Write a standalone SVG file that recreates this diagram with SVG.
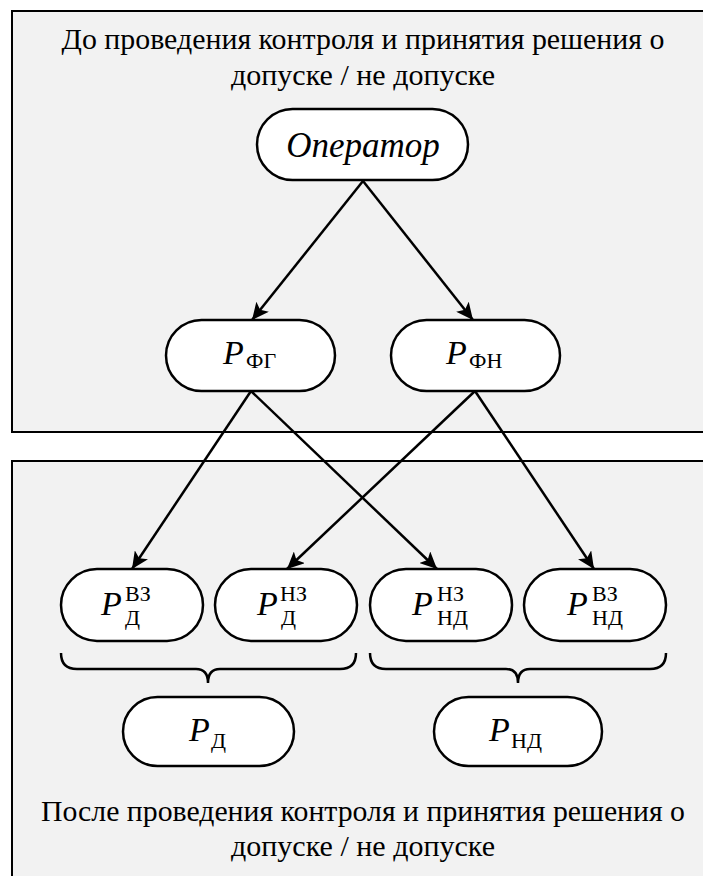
<svg xmlns="http://www.w3.org/2000/svg" width="703" height="876" viewBox="0 0 703 876">
<defs>
<style>
.panel{fill:#f2f2f2;stroke:#000;stroke-width:2}
.node{fill:#fff;stroke:#000;stroke-width:2.5}
.edge{stroke:#000;stroke-width:2.5;fill:none}
.brace{stroke:#000;stroke-width:2.5;fill:none}
.title{font-size:29px;text-anchor:middle}
.it{font-style:italic}
</style>
<marker id="arr" markerUnits="userSpaceOnUse" markerWidth="18" markerHeight="16" refX="17" refY="8" orient="auto">
<path d="M0,0 L17,8 L0,16 L4,8 z" fill="#000"/>
</marker>
</defs>
<rect class="panel" x="12" y="11" width="700" height="421"/>
<rect class="panel" x="12" y="461" width="700" height="430"/>
<g font-family="'Times New Roman', Times, 'Liberation Serif', Tinos, 'Noto Serif', 'DejaVu Serif', serif" fill="#000">
<text class="title" x="363" y="49" textLength="603" lengthAdjust="spacingAndGlyphs">До проведения контроля и принятия решения о</text>
<text class="title" x="363" y="85" textLength="264" lengthAdjust="spacingAndGlyphs">допуске / не допуске</text>
<text class="title" x="363" y="821" textLength="644" lengthAdjust="spacingAndGlyphs">После проведения контроля и принятия решения о</text>
<text class="title" x="363" y="856" textLength="264" lengthAdjust="spacingAndGlyphs">допуске / не допуске</text>
</g>
<g id="connectors">
<line class="edge" x1="363" y1="181" x2="252" y2="320" marker-end="url(#arr)"/>
<line class="edge" x1="363" y1="181" x2="473" y2="320" marker-end="url(#arr)"/>
<line class="edge" x1="251" y1="391" x2="132" y2="569" marker-end="url(#arr)"/>
<line class="edge" x1="251" y1="391" x2="437" y2="569" marker-end="url(#arr)"/>
<line class="edge" x1="475" y1="391" x2="287" y2="569" marker-end="url(#arr)"/>
<line class="edge" x1="475" y1="391" x2="594" y2="569" marker-end="url(#arr)"/>
<path class="brace" d="M61,653 Q61,669 77,669 L196,669 Q208,669 208,683 Q208,669 220,669 L340,669 Q356,669 356,653"/>
<path class="brace" d="M370,653 Q370,669 386,669 L506,669 Q518,669 518,683 Q518,669 530,669 L650,669 Q666,669 666,653"/>
</g>
<g font-family="'Times New Roman', Times, 'Liberation Serif', Tinos, 'Noto Serif', 'DejaVu Serif', serif" fill="#000">
<g id="operator">
<rect class="node" x="257" y="109" width="211" height="71" rx="35.5"/>
<text class="it" x="363" y="157" font-size="35" text-anchor="middle">Оператор</text>
</g>
<g id="p-fg">
<rect class="node" x="166" y="320" width="169" height="71" rx="35.5"/>
<text class="it" x="223" y="364" font-size="34">P</text>
<text x="246" y="368" font-size="22">ФГ</text>
</g>
<g id="p-fn">
<rect class="node" x="391" y="320" width="169" height="71" rx="35.5"/>
<text class="it" x="446" y="364" font-size="34">P</text>
<text x="469" y="368" font-size="22">ФН</text>
</g>
<g id="p-d-vz">
<rect class="node" x="61" y="569" width="142" height="72" rx="36"/>
<text class="it" x="101" y="615" font-size="34">P</text>
<text x="125" y="601" font-size="22">ВЗ</text>
<text x="125" y="625" font-size="22">Д</text>
</g>
<g id="p-d-nz">
<rect class="node" x="215" y="569" width="142" height="72" rx="36"/>
<text class="it" x="257" y="615" font-size="34">P</text>
<text x="280" y="601" font-size="22">НЗ</text>
<text x="281" y="625" font-size="22">Д</text>
</g>
<g id="p-nd-nz">
<rect class="node" x="370" y="569" width="142" height="72" rx="36"/>
<text class="it" x="412" y="615" font-size="34">P</text>
<text x="437" y="601" font-size="22">НЗ</text>
<text x="437" y="625" font-size="22">НД</text>
</g>
<g id="p-nd-vz">
<rect class="node" x="524" y="569" width="142" height="72" rx="36"/>
<text class="it" x="567" y="615" font-size="34">P</text>
<text x="592" y="601" font-size="22">ВЗ</text>
<text x="592" y="625" font-size="22">НД</text>
</g>
<g id="p-d">
<rect class="node" x="123" y="697" width="171" height="69" rx="34.5"/>
<text class="it" x="189" y="741" font-size="34">P</text>
<text x="211" y="748" font-size="22">Д</text>
</g>
<g id="p-nd">
<rect class="node" x="434" y="697" width="168" height="69" rx="34.5"/>
<text class="it" x="489" y="741" font-size="34">P</text>
<text x="511" y="748" font-size="22">НД</text>
</g>
</g>
</svg>
